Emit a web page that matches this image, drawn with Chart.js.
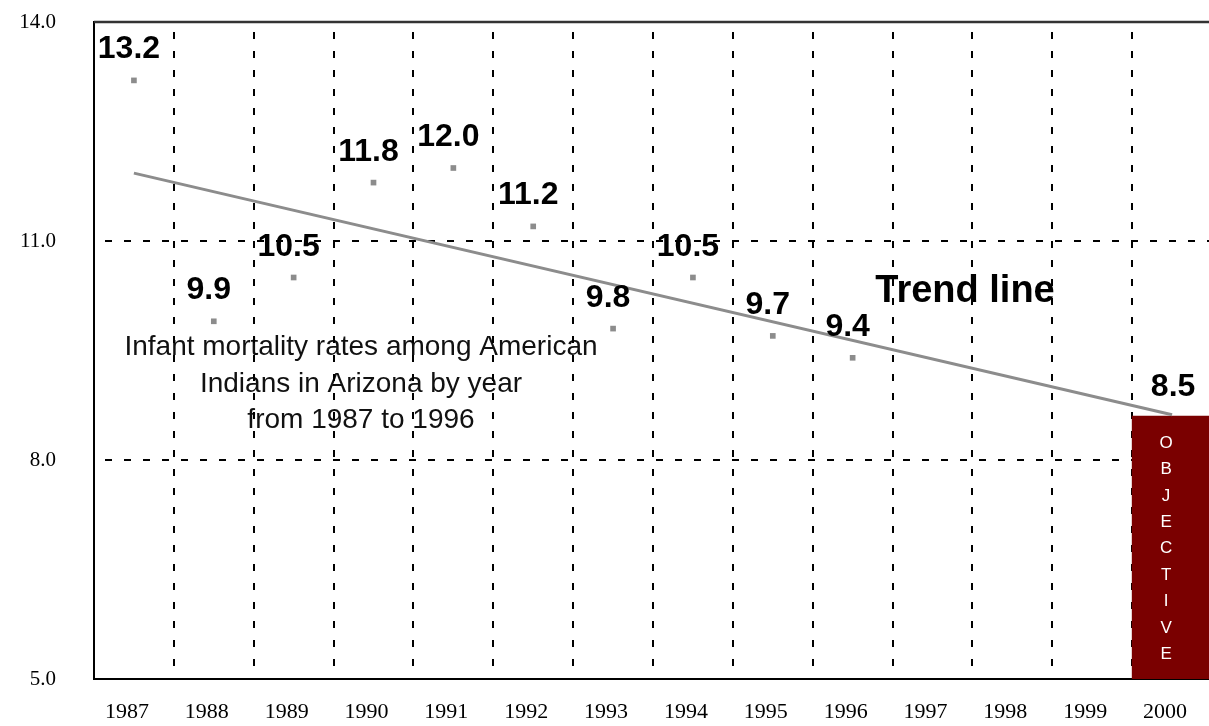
<!DOCTYPE html>
<html><head><meta charset="utf-8">
<script src="https://cdn.jsdelivr.net/npm/chart.js@4.4.0/dist/chart.umd.min.js"></script>
<style>html,body{margin:0;padding:0;overflow:hidden;background:#fff;width:1209px;height:726px}canvas{display:block}</style>
</head><body><canvas id="c" width="1216" height="726"></canvas>
<script>
const years = ['1987','1988','1989','1990','1991','1992','1993','1994','1995','1996','1997','1998','1999','2000'];
const rates = [13.2, 9.9, 10.5, 11.8, 12.0, 11.2, 9.8, 10.5, 9.7, 9.4, null, null, null, null];
const trend = [11.93, null, null, null, null, null, null, null, null, null, null, null, null, 8.62];
const objective = [null, null, null, null, null, null, null, null, null, null, null, null, null, 8.6];
const objectiveLabels = ['8.5'];
const objectiveWord = 'OBJECTIVE';
const yTicks = [5, 8, 11, 14];
const yTickLabels = ['5.0', '8.0', '11.0', '14.0'];
const noteLines = ['Infant mortality rates among American', 'Indians in Arizona by year', 'from 1987 to 1996'];
const trendLabel = 'Trend line';

const notePlugin = {
  id: 'note',
  beforeDraw(chart) {
    const {ctx, chartArea: a} = chart;
    ctx.save();
    ctx.fillStyle = '#111';
    ctx.font = '28px "Liberation Sans", Arial, sans-serif';
    ctx.textAlign = 'center';
    ctx.textBaseline = 'alphabetic';
    const cx = a.left + 267;
    const base = [a.top + 333, a.top + 370, a.top + 406];
    noteLines.forEach((t, i) => ctx.fillText(t, cx, base[i]));
    ctx.restore();
  }
};

const borderPlugin = {
  id: 'topBorder',
  beforeDatasetsDraw(chart) {
    const {ctx, chartArea: a} = chart;
    ctx.save();
    ctx.strokeStyle = '#333';
    ctx.lineWidth = 2.5;
    ctx.beginPath();
    ctx.moveTo(a.left, a.top);
    ctx.lineTo(a.right, a.top);
    ctx.stroke();
    ctx.restore();
  }
};

const labelPlugin = {
  id: 'labels',
  afterDatasetsDraw(chart) {
    const {ctx, chartArea: a} = chart;
    ctx.save();
    ctx.fillStyle = '#000';
    ctx.textAlign = 'center';
    ctx.textBaseline = 'alphabetic';
    ctx.font = 'bold 32px "Liberation Sans", Arial, sans-serif';
    const pm = chart.getDatasetMeta(1);
    pm.data.forEach((el, i) => {
      if (rates[i] == null) return;
      ctx.fillText(rates[i].toFixed(1), el.x - 5, el.y - 22);
    });
    const bm = chart.getDatasetMeta(2);
    const bar = bm.data[13];
    ctx.fillText(objectiveLabels[0], bar.x + 1, bar.y - 20);
    ctx.font = 'bold 38px "Liberation Sans", Arial, sans-serif';
    ctx.fillText(trendLabel, a.left + 871, a.top + 280);
    ctx.fillStyle = '#fff';
    ctx.font = '17px "Liberation Sans", Arial, sans-serif';
    ctx.textBaseline = 'middle';
    objectiveWord.split('').forEach((ch, i) => {
      ctx.fillText(ch, bar.x - 6, bar.y + 27 + i * 26.4);
    });
    ctx.restore();
  }
};

new Chart(document.getElementById('c'), {
  type: 'bar',
  data: {
    labels: years,
    datasets: [
      {type: 'line', label: 'trend', data: trend, borderColor: '#8c8c8c', borderWidth: 3, pointRadius: 0, spanGaps: true, order: 0},
      {type: 'line', label: 'rates', data: rates, showLine: false, pointStyle: 'rect', pointRadius: 4, pointBackgroundColor: '#8c8c8c', pointBorderWidth: 0, order: 1},
      {type: 'bar', label: 'objective', data: objective, backgroundColor: '#7a0000', barPercentage: 1, categoryPercentage: 1, order: 2}
    ]
  },
  options: {
    responsive: false,
    animation: false,
    events: [],
    layout: {padding: {top: 22, right: 2, left: 0, bottom: 0}},
    plugins: {legend: {display: false}, tooltip: {enabled: false}},
    scales: {
      x: {
        grid: {offset: true, color: '#000', lineWidth: 2, drawTicks: false, tickLength: 0},
        border: {display: true, color: '#000', width: 2, dash: [7, 12], dashOffset: 9},
        ticks: {color: '#000', font: {family: '"Liberation Serif", serif', size: 22}, padding: 20, labelOffset: -7, maxRotation: 0, autoSkip: false},
        afterFit(s) { s.height = 47; }
      },
      y: {
        min: 5, max: 14,
        grid: {color: '#000', lineWidth: 2, drawTicks: true, tickLength: 38, tickColor: 'rgba(0,0,0,0)'},
        border: {display: true, color: '#000', width: 2, dash: [7, 12], dashOffset: 9},
        afterBuildTicks(s) { s.ticks = yTicks.map(v => ({value: v})); },
        ticks: {
          color: '#000',
          font: {family: '"Liberation Serif", serif', size: 21},
          padding: 0,
          callback: (v) => yTickLabels[yTicks.indexOf(v)]
        },
        afterFit(s) { s.width = 94; }
      }
    }
  },
  plugins: [notePlugin, borderPlugin, labelPlugin]
});
</script>
</body></html>
